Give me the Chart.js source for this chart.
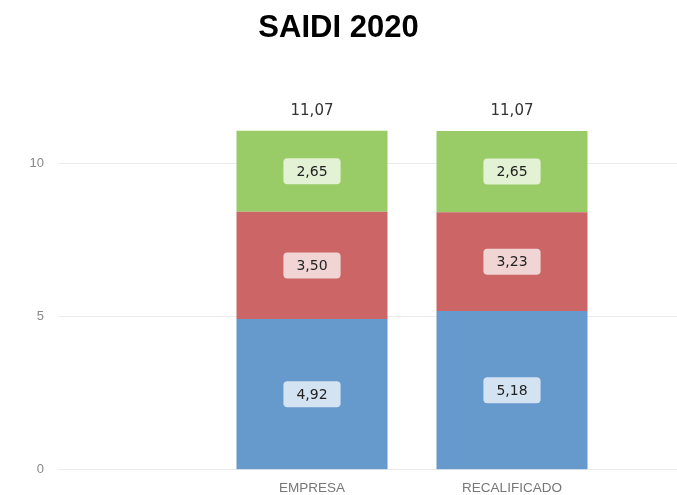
<!DOCTYPE html>
<html>
<head>
<meta charset="utf-8">
<script src="https://cdn.jsdelivr.net/npm/chart.js@4"></script>
<style>
  html, body { margin: 0; padding: 0; background: #fff; }
  #wrap { width: 677px; height: 495px; }
</style>
</head>
<body>
<div id="wrap"><canvas id="canvas"></canvas></div>
<script>
var categories = ['EMPRESA', 'RECALIFICADO'];
var blueValues = [4.92, 5.18];
var redValues = [3.50, 3.23];
var greenValues = [2.65, 2.65];
var totals = [11.07, 11.07];
var yTicks = [0, 5, 10];

function fmt(v) {
    return v.toFixed(2).replace('.', ',');
}

function points(values) {
    return values.map(function (v, i) { return { x: i + 1, y: v }; });
}

// draws the value boxes inside the bars and the totals above them
var labelPlugin = {
    id: 'labels',
    afterDatasetsDraw: function (chart) {
        var ctx = chart.ctx;
        ctx.save();
        ctx.font = '14px "DejaVu Sans", sans-serif';
        ctx.textAlign = 'center';
        ctx.textBaseline = 'middle';
        chart.data.datasets.forEach(function (ds, di) {
            var meta = chart.getDatasetMeta(di);
            meta.data.forEach(function (bar, i) {
                var text = fmt(ds.data[i].y);
                var w = ctx.measureText(text).width + 26;
                var h = 26;
                var cy = (bar.y + bar.base) / 2;
                ctx.fillStyle = 'rgba(255,255,255,0.72)';
                ctx.beginPath();
                ctx.roundRect(bar.x - w / 2, cy - h / 2, w, h, 4);
                ctx.fill();
                ctx.fillStyle = '#222';
                ctx.fillText(text, bar.x, cy + 1);
            });
        });
        var last = chart.getDatasetMeta(chart.data.datasets.length - 1);
        ctx.fillStyle = '#333';
        ctx.font = '15px "DejaVu Sans", sans-serif';
        last.data.forEach(function (bar, i) {
            ctx.fillText(fmt(totals[i]), bar.x, bar.y - 20);
        });
        ctx.restore();
    }
};

var config = {
    type: 'bar',
    data: {
        datasets: [{
            label: 'Azul',
            data: points(blueValues),
            backgroundColor: '#6699cc'
        }, {
            label: 'Rojo',
            data: points(redValues),
            backgroundColor: '#cc6666'
        }, {
            label: 'Verde',
            data: points(greenValues),
            backgroundColor: '#99cc66'
        }]
    },
    options: {
        responsive: true,
        maintainAspectRatio: false,
        animation: false,
        layout: {
            padding: { left: 0, right: 0, top: 0, bottom: -11 }
        },
        datasets: {
            bar: {
                categoryPercentage: 1,
                barPercentage: 0.755
            }
        },
        plugins: {
            legend: { display: false },
            tooltip: { enabled: false },
            title: {
                display: true,
                text: 'SAIDI 2020',
                color: '#000',
                font: { family: '"Liberation Sans", Arial, sans-serif', size: 31, weight: 'bold' },
                padding: { top: 10, bottom: 55 }
            }
        },
        scales: {
            x: {
                type: 'linear',
                stacked: true,
                offset: false,
                min: -0.27,
                max: 2.825,
                grid: { display: false, drawTicks: false, offset: false },
                border: { display: false },
                afterBuildTicks: function (scale) {
                    scale.ticks = categories.map(function (c, i) { return { value: i + 1 }; });
                },
                ticks: {
                    padding: 10,
                    color: '#777',
                    font: { family: '"Liberation Sans", Arial, sans-serif', size: 13.5 },
                    callback: function (v) { return categories[v - 1] || ''; }
                }
            },
            y: {
                stacked: true,
                min: 0,
                max: 12,
                grid: { color: '#ececec', drawTicks: false },
                border: { display: false },
                afterBuildTicks: function (scale) {
                    scale.ticks = yTicks.map(function (v) { return { value: v }; });
                },
                afterFit: function (scale) {
                    scale.width = 58;
                },
                ticks: {
                    padding: 14,
                    color: '#888',
                    font: { family: '"Liberation Sans", Arial, sans-serif', size: 13 }
                }
            }
        }
    },
    plugins: [labelPlugin]
};

window.onload = function () {
    var ctx = document.getElementById('canvas').getContext('2d');
    window.myBar = new Chart(ctx, config);
};
</script>
</body>
</html>
